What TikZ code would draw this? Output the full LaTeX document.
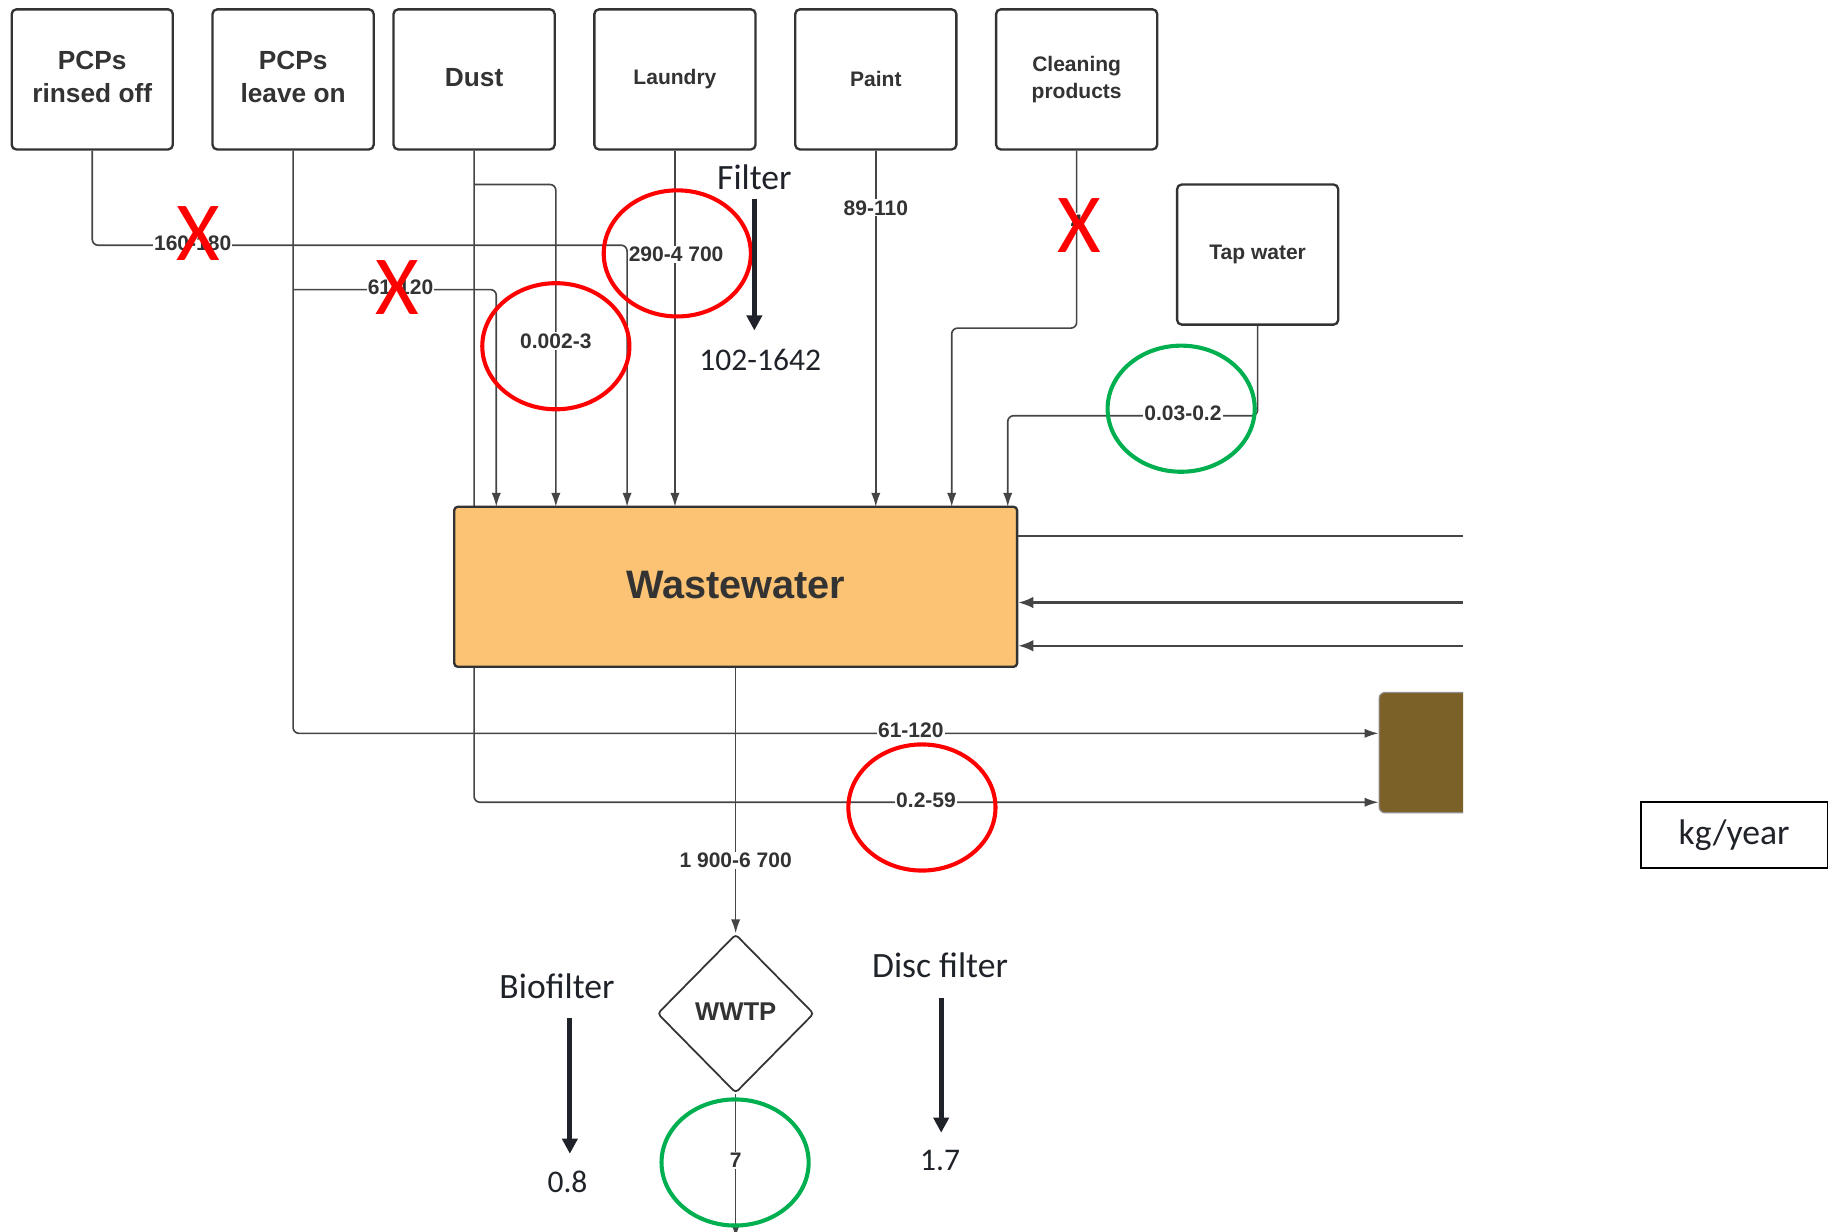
\documentclass[tikz,border=0pt]{standalone}
\usepackage{fontspec}
\setmainfont{Liberation Sans}
\newfontfamily\calfont{Carlito}
\usetikzlibrary{shapes.geometric,arrows.meta,calc}
\definecolor{txt}{HTML}{333333}
\definecolor{lin}{HTML}{454545}
\definecolor{wwfill}{HTML}{FBC373}
\definecolor{soilc}{HTML}{7B6128}
\definecolor{redc}{HTML}{FF0000}
\definecolor{greenc}{HTML}{00B050}
\definecolor{annot}{HTML}{1F2329}
\newcommand{\twoline}[2]{\raisebox{3pt}{\begin{tabular}{@{}c@{}}#1\\#2\end{tabular}}}
\begin{document}
\begin{tikzpicture}[x=1pt,y=-1pt,
  srcbox/.style={draw=txt, line width=2pt, rounded corners=4pt, fill=white,
    minimum width=138pt, minimum height=120pt, align=center, text=txt,
    inner sep=0pt, font=\bfseries\fontsize{22.5}{28}\selectfont},
  smallsrc/.style={srcbox, font=\bfseries\fontsize{18}{23}\selectfont},
  conn/.style={draw=lin, line width=1.4pt, rounded corners=5pt,
    -{Latex[length=12pt,width=8pt]}},
  plainline/.style={draw=lin, line width=2pt},
  bigin/.style={draw=lin, line width=2pt, -{Latex[length=13pt,width=10pt]}},
  lbl/.style={fill=white, inner sep=1pt, text=txt,
    font=\bfseries\fontsize{18}{18}\selectfont},
  annotxt/.style={text=annot, inner sep=1pt, font=\calfont\fontsize{30.5}{30}\selectfont},
  annonum/.style={text=annot, inner sep=1pt, font=\calfont\fontsize{27}{27}\selectfont},
  bigarrow/.style={draw=annot, line width=4.5pt, -{Triangle[length=13pt,width=13pt]}},
  redring/.style={draw=redc, line width=3.5pt},
  greenring/.style={draw=greenc, line width=3.5pt},
  cross/.style={text=redc, inner sep=0pt, font=\calfont\fontsize{72}{72}\selectfont}
]
\useasboundingbox (0,0) rectangle (1568,1055);

% source boxes
\node[srcbox] (rinse) at (79,68) {\twoline{PCPs}{rinsed off}};
\node[srcbox] (leave) at (251,68) {\twoline{PCPs}{leave on}};
\node[srcbox] (dust) at (406,68) {\raisebox{3pt}{Dust}};
\node[smallsrc] (laundry) at (578,68) {Laundry};
\node[smallsrc] (paint) at (750,68) {Paint};
\node[smallsrc] (clean) at (922,68) {\twoline{Cleaning}{products}};
\node[smallsrc] (tap) at (1077,218) {Tap water};

% soil box (clipped at the right edge)
\begin{scope}
  \clip (0,0) rectangle (1253,1055);
  \node[draw=lin!60, line width=1pt, fill=soilc, rounded corners=5pt,
        minimum width=144pt, minimum height=103pt] (soil) at (1253,644.5) {};
\end{scope}

% coordinates
\coordinate (wwtl) at (389,434);
\coordinate (r1) at (1253,459);
\coordinate (r2) at (1253,516);
\coordinate (r3) at (1253,553);
\coordinate (out) at (630,1060);

% connectors
\draw[conn] (rinse.south) -- ++(0,81) -| ([xshift=148pt]wwtl);
\draw[conn] (leave.south) |- (soil.west |- 0,628);
\draw[conn] (leave.south) ++(0,119) -| ([xshift=36pt]wwtl);
\draw[conn] (dust.south) |- (soil.west |- 0,687);
\draw[conn] (dust.south) ++(0,29) -| ([xshift=87pt]wwtl);
\draw[conn] (laundry.south) -- (laundry.south |- wwtl);
\draw[conn] (paint.south) -- (paint.south |- wwtl);
\draw[conn] (clean.south) -- ++(0,152) -| ([xshift=426pt]wwtl);
\draw[conn] (tap.south) -- ++(0,77) -| ([xshift=474pt]wwtl);

% wastewater box
\node[draw=txt, line width=2pt, fill=wwfill, rounded corners=3pt,
      minimum width=482pt, minimum height=137pt, text=txt,
      font=\bfseries\fontsize{34}{34}\selectfont] (ww) at (630,502.5) {\raisebox{3pt}{Wastewater}};

% WWTP diamond
\node[diamond, aspect=1, draw=txt, line width=1.5pt, rounded corners=3pt, fill=white,
      minimum width=134pt, minimum height=136pt, inner sep=0pt, text=txt,
      font=\bfseries\fontsize{22}{22}\selectfont] (wwtp) at (630,868) {\raisebox{3pt}{WWTP}};

\draw[conn] (ww.south) -- (wwtp.north);
\draw[conn] (wwtp.south) -- (out);

% right side lines
\draw[plainline] (ww.east |- r1) -- (r1);
\draw[bigin] (r2) -- (ww.east |- r2);
\draw[bigin] (r3) -- (ww.east |- r3);

% edge labels
\node[lbl] (l1) at (165,208) {160-180};
\node[lbl] (l2) at (343,246) {61-120};
\node[lbl] (l3) at (476,292) {0.002-3};
\node[lbl] (l4) at (579,218) {290-4 700};
\node[lbl] (l5) at (750,178) {89-110};
\node[lbl] (l6) at (922,190) {4};
\node[lbl] (l7) at (1013,354) {0.03-0.2};
\node[lbl] (l8) at (780,625) {61-120};
\node[lbl] (l9) at (793,685) {0.2-59};
\node[lbl] (l10) at (630,737) {1 900-6 700};
\node[lbl] (l11) at (630,994) {7};

% rings
\draw[redring] (580,217) ellipse [x radius=63pt, y radius=54pt];
\draw[redring] (476,296.5) ellipse [x radius=63pt, y radius=54pt];
\draw[redring] (789.5,691.5) ellipse [x radius=63pt, y radius=54pt];
\draw[greenring] (1011.5,350) ellipse [x radius=63pt, y radius=54pt];
\draw[greenring] (629.5,995.5) ellipse [x radius=63pt, y radius=54pt];

% red crosses
\node[cross] (x1) at (170,200) {X};
\node[cross] (x2) at (340,246) {X};
\node[cross] (x3) at (924,193) {X};

% annotations
\node[annotxt] (filt) at (646,152) {Filter};
\node[annonum] (filtv) at (651,308) {102-1642};
\coordinate (fs) at (646,170);
\coordinate (fe) at (646,283);
\draw[bigarrow] (fs) -- (fe);

\node[annotxt] (bio) at (477,845) {Biofilter};
\node[annonum] (biov) at (486,1012) {0.8};
\coordinate (bs) at (488,872);
\coordinate (be) at (488,988);
\draw[bigarrow] (bs) -- (be);

\node[annotxt] (disc) at (805,827) {Disc filter};
\node[annonum] (discv) at (805,994) {1.7};
\coordinate (ds) at (806,855);
\coordinate (de) at (806,970);
\draw[bigarrow] (ds) -- (de);

\node[draw=black, line width=1.5pt, minimum width=160pt, minimum height=56pt,
      text=annot, font=\calfont\fontsize{30.5}{30}\selectfont] (unit) at (1485,715) {\raisebox{-2pt}{kg/year}};
\end{tikzpicture}
\end{document}
